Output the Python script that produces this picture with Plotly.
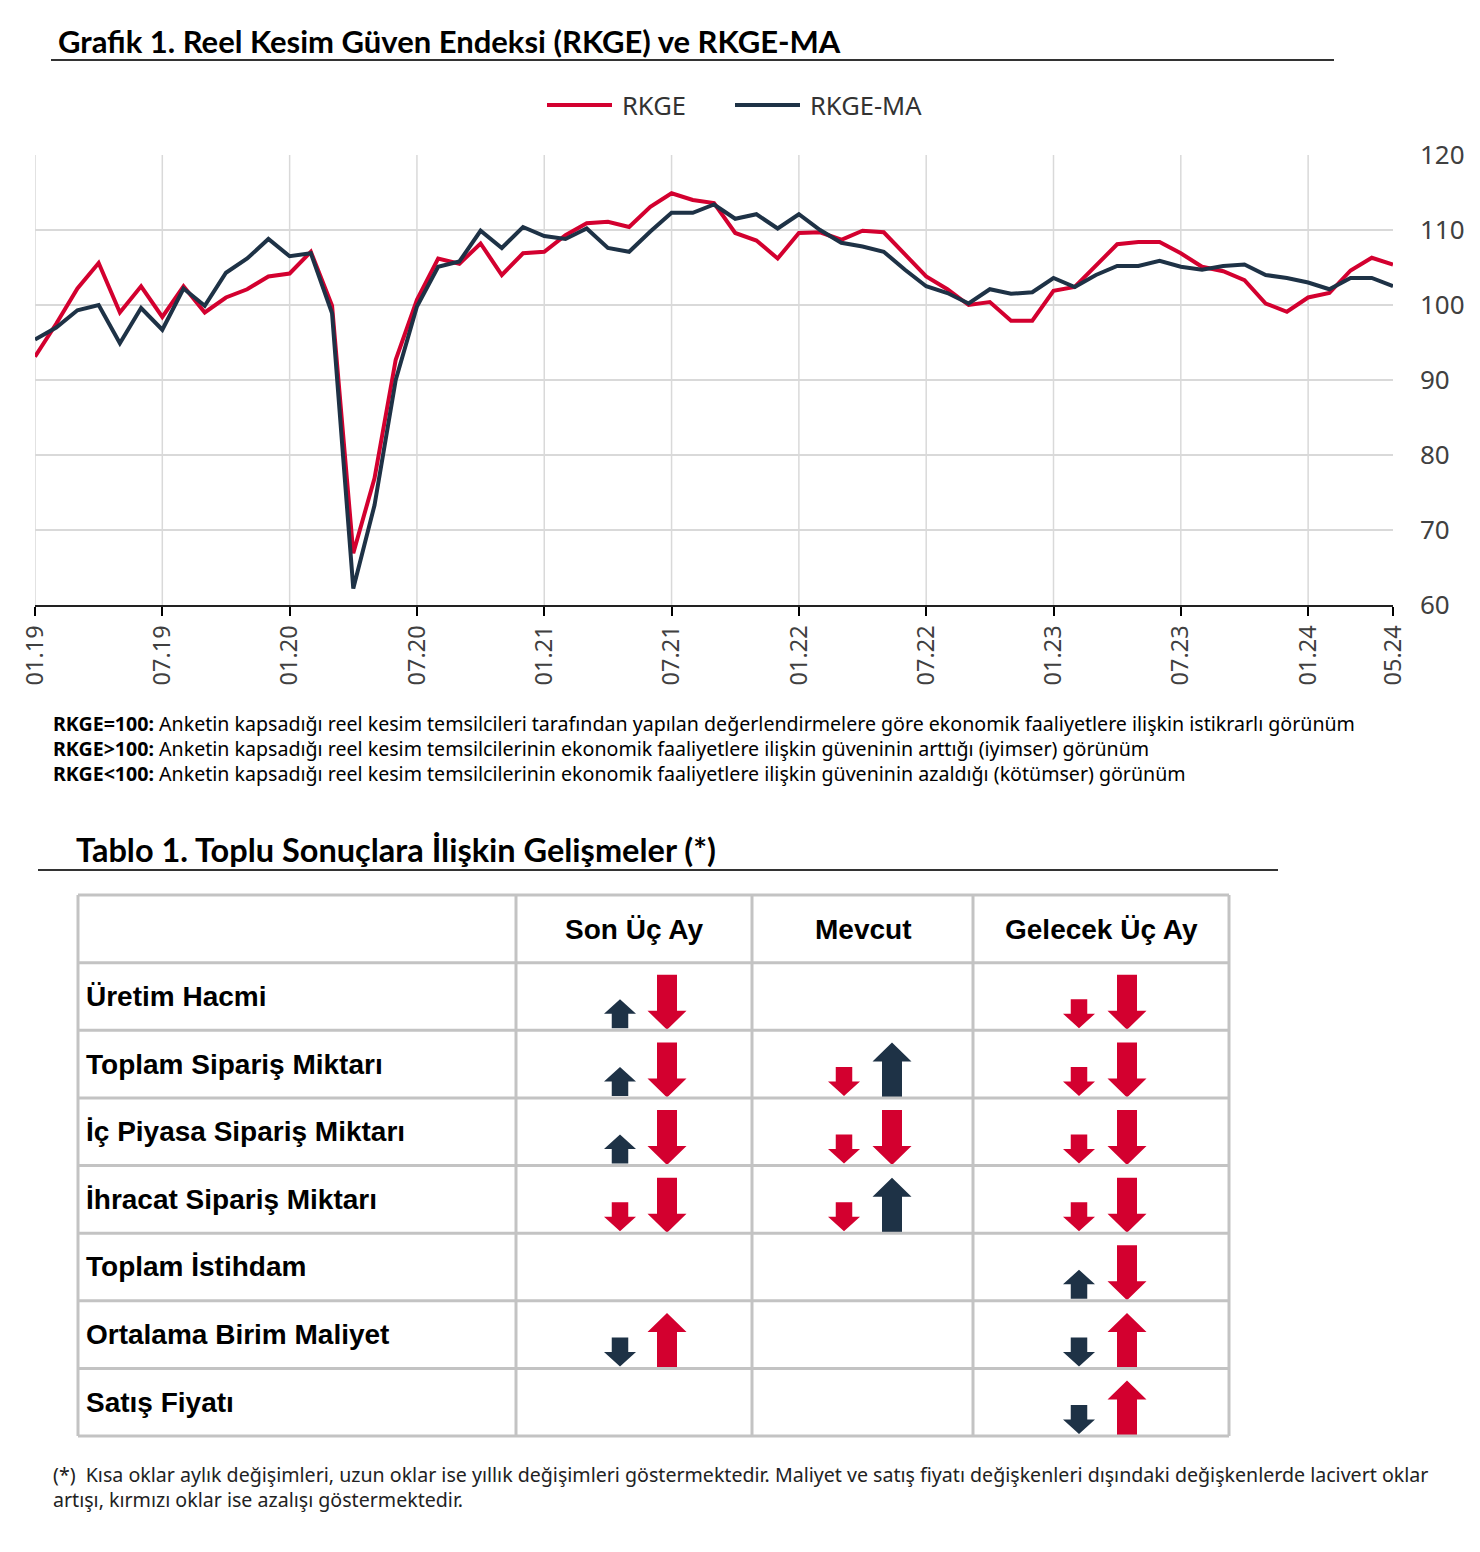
import pandas as pd
import plotly.graph_objects as go

# ---------------- DATA ----------------
months = list(pd.date_range("2019-01-01", "2024-05-01", freq="MS").strftime("%m.%y"))

rkge = [93.1, 97.5, 102.2, 105.6, 99.0, 102.5, 98.4, 102.5, 99.0, 101.0,
        102.1, 103.8, 104.2, 107.1, 99.9, 66.9, 76.9, 92.7, 100.7, 106.2,
        105.5, 108.2, 104.0, 106.9, 107.1, 109.3, 110.9, 111.1, 110.4, 113.1,
        114.9, 114.0, 113.6, 109.6, 108.6, 106.2, 109.6, 109.7, 108.7, 109.9,
        109.7, 106.7, 103.8, 102.1, 100.0, 100.4, 97.9, 97.9, 101.9, 102.4,
        105.3, 108.1, 108.4, 108.4, 106.9, 105.1, 104.5, 103.3, 100.2, 99.1,
        101.0, 101.6, 104.6, 106.3, 105.4]

rkge_ma = [95.4, 97.0, 99.3, 100.0, 94.9, 99.6, 96.7, 102.2, 99.9, 104.3,
           106.2, 108.8, 106.5, 106.9, 98.9, 62.2, 73.3, 90.0, 99.8, 105.1,
           105.8, 109.9, 107.6, 110.4, 109.2, 108.8, 110.2, 107.6, 107.1, 109.8,
           112.3, 112.3, 113.4, 111.5, 112.1, 110.2, 112.1, 110.0, 108.3, 107.8,
           107.1, 104.7, 102.5, 101.6, 100.2, 102.1, 101.5, 101.7, 103.6, 102.4,
           104.0, 105.2, 105.2, 105.9, 105.1, 104.7, 105.2, 105.4, 104.0, 103.6,
           103.0, 102.1, 103.6, 103.6, 102.5]

x_tick_labels = ["01.19", "07.19", "01.20", "07.20", "01.21", "07.21",
                 "01.22", "07.22", "01.23", "07.23", "01.24", "05.24"]
x_grid_labels = x_tick_labels[:-1]
y_ticks = [60, 70, 80, 90, 100, 110, 120]

table_columns = ["Son Üç Ay", "Mevcut", "Gelecek Üç Ay"]
table_rows = ["Üretim Hacmi", "Toplam Sipariş Miktarı", "İç Piyasa Sipariş Miktarı",
              "İhracat Sipariş Miktarı", "Toplam İstihdam", "Ortalama Birim Maliyet",
              "Satış Fiyatı"]
# cost / price rows: colour meaning reversed (increase shown red)
row_reversed = [False, False, False, False, False, True, True]

# monthly (short) and annual (long) changes: "up", "down" or None
short_changes = {
    "Son Üç Ay":     ["up", "up", "up", "down", None, "down", None],
    "Mevcut":        [None, "down", "down", "down", None, None, None],
    "Gelecek Üç Ay": ["down", "down", "down", "down", "up", "down", "down"],
}
long_changes = {
    "Son Üç Ay":     ["down", "down", "down", "down", None, "up", None],
    "Mevcut":        [None, "up", "down", "up", None, None, None],
    "Gelecek Üç Ay": ["down", "down", "down", "down", "down", "up", "up"],
}

# ---------------- STYLE ----------------
RED = "#D3002F"
NAVY = "#1E3246"
GRID = "#D9D9D9"
TGRID = "#C3C3C3"
W, H = 1480, 1552
FONT = "Noto Sans"
TFONT = "Liberation Sans"


def px(x):
    return x / W


def py(y):
    return 1 - y / H


fig = go.Figure()

fig.add_trace(go.Scatter(x=months, y=rkge, mode="lines", name="RKGE",
                         line=dict(color=RED, width=4), showlegend=False,
                         xaxis="x", yaxis="y"))
fig.add_trace(go.Scatter(x=months, y=rkge_ma, mode="lines", name="RKGE-MA",
                         line=dict(color=NAVY, width=4), showlegend=False,
                         xaxis="x", yaxis="y"))

shapes = []
annotations = []

# vertical gridlines in the chart
for lbl in x_grid_labels:
    i = months.index(lbl)
    shapes.append(dict(type="line", xref="x", yref="y domain", x0=i, x1=i, y0=0, y1=1,
                       line=dict(color=GRID, width=1.5), layer="below"))

# ---- table geometry (pixel-like units inside the table subplot) ----
TX0, TY0 = 78, 895            # table top-left in page pixels
col_edges = [0, 438, 674, 895, 1151]
n_rows = len(table_rows) + 1
row_h = 541 / n_rows
row_edges = [k * row_h for k in range(n_rows + 1)]
# arrow centre offsets (short, long) per column, relative to column left edge
arrow_x = {"Son Üç Ay": (104, 151), "Mevcut": (92, 140), "Gelecek Üç Ay": (106, 154)}
LONG = dict(h=55, w=39, s=20, hh=19, gap=0.5)
SHORT = dict(h=29, w=32, s=16.5, hh=14.5, gap=2)


def arrow_poly(cx, yb, direction, g):
    h, w, s, hh = g["h"], g["w"], g["s"], g["hh"]
    yt = yb - h
    xs = [cx - s / 2, cx - s / 2, cx - w / 2, cx, cx + w / 2, cx + s / 2, cx + s / 2, cx - s / 2]
    if direction == "up":
        ys = [yb, yt + hh, yt + hh, yt, yt + hh, yt + hh, yb, yb]
    else:
        ys = [yt, yb - hh, yb - hh, yb, yb - hh, yb - hh, yt, yt]
    return xs, ys


def arrow_color(direction, reversed_):
    up_good = not reversed_
    if direction == "up":
        return NAVY if up_good else RED
    return RED if up_good else NAVY


for ci, col in enumerate(table_columns):
    left = col_edges[ci + 1]
    for ri, _ in enumerate(table_rows):
        yb = row_edges[ri + 2]
        for changes, g, k in ((short_changes, SHORT, 0), (long_changes, LONG, 1)):
            d = changes[col][ri]
            if d is None:
                continue
            xs, ys = arrow_poly(left + arrow_x[col][k], yb - g["gap"], d, g)
            c = arrow_color(d, row_reversed[ri])
            fig.add_trace(go.Scatter(x=xs, y=ys, mode="lines", fill="toself",
                                     fillcolor=c, line=dict(width=0, color=c),
                                     hoverinfo="skip", showlegend=False,
                                     xaxis="x2", yaxis="y2"))

# table grid
for xe in col_edges:
    shapes.append(dict(type="line", xref="x2", yref="y2", x0=xe, x1=xe,
                       y0=row_edges[0], y1=row_edges[-1], line=dict(color=TGRID, width=3)))
for ye in row_edges:
    shapes.append(dict(type="line", xref="x2", yref="y2", x0=col_edges[0], x1=col_edges[-1],
                       y0=ye, y1=ye, line=dict(color=TGRID, width=3)))

# table header
for ci, col in enumerate(table_columns):
    annotations.append(dict(xref="x2", yref="y2", x=(col_edges[ci + 1] + col_edges[ci + 2]) / 2,
                            y=row_h / 2 + 1, text=f"<b>{col}</b>", showarrow=False,
                            xanchor="center", yanchor="middle",
                            font=dict(family=TFONT, size=28, color="#000")))
for ri, rl in enumerate(table_rows):
    annotations.append(dict(xref="x2", yref="y2", x=6, y=row_edges[ri + 1] + row_h / 2,
                            text=f"<b>{rl}</b>", showarrow=False, xanchor="left",
                            yanchor="middle", font=dict(family=TFONT, size=28, color="#000")))

# titles and underlines
annotations.append(dict(xref="paper", yref="paper", x=px(56), y=py(41),
                        text="<b>Grafik 1. Reel Kesim Güven Endeksi (RKGE) ve RKGE-MA</b>",
                        showarrow=False, xanchor="left", yanchor="middle",
                        font=dict(family="Lato", size=31, color="#000")))
shapes.append(dict(type="line", xref="paper", yref="paper", x0=px(51), x1=px(1334),
                   y0=py(60), y1=py(60), line=dict(color="#333", width=2)))
annotations.append(dict(xref="paper", yref="paper", x=px(74), y=py(849),
                        text="<b>Tablo 1. Toplu Sonuçlara İlişkin Gelişmeler (*)</b>",
                        showarrow=False, xanchor="left", yanchor="middle",
                        font=dict(family="Lato", size=32.5, color="#000")))
shapes.append(dict(type="line", xref="paper", yref="paper", x0=px(38), x1=px(1278),
                   y0=py(870), y1=py(870), line=dict(color="#333", width=2)))

# manual legend
for (x0, x1, tx, name, colr) in ((547, 612, 620, "RKGE", RED), (735, 800, 808, "RKGE-MA", NAVY)):
    shapes.append(dict(type="line", xref="paper", yref="paper", x0=px(x0), x1=px(x1),
                       y0=py(105), y1=py(105), line=dict(color=colr, width=4)))
    annotations.append(dict(xref="paper", yref="paper", x=px(tx), y=py(105), text=name,
                            showarrow=False, xanchor="left", yanchor="middle",
                            font=dict(family=FONT, size=25.5, color="#333")))

# notes
notes = [
    ("RKGE=100:", "Anketin kapsadığı reel kesim temsilcileri tarafından yapılan değerlendirmelere göre ekonomik faaliyetlere ilişkin istikrarlı görünüm"),
    ("RKGE>100:", "Anketin kapsadığı reel kesim temsilcilerinin ekonomik faaliyetlere ilişkin güveninin arttığı (iyimser) görünüm"),
    ("RKGE<100:", "Anketin kapsadığı reel kesim temsilcilerinin ekonomik faaliyetlere ilişkin güveninin azaldığı (kötümser) görünüm"),
]
for k, (b, t) in enumerate(notes):
    annotations.append(dict(xref="paper", yref="paper", x=px(51), y=py(723 + 25 * k),
                            text=f"<b>{b.replace('<', '&lt;').replace('>', '&gt;')}</b> {t}",
                            showarrow=False, xanchor="left", yanchor="middle",
                            font=dict(family=FONT, size=19.6, color="#000")))

foot = ["(*)  Kısa oklar aylık değişimleri, uzun oklar ise yıllık değişimleri göstermektedir. Maliyet ve satış fiyatı değişkenleri dışındaki değişkenlerde lacivert oklar",
        "artışı, kırmızı oklar ise azalışı göstermektedir."]
for k, t in enumerate(foot):
    annotations.append(dict(xref="paper", yref="paper", x=px(51), y=py(1474 + 25 * k),
                            text=t, showarrow=False, xanchor="left", yanchor="middle",
                            font=dict(family=FONT, size=19.6, color="#222")))

fig.update_layout(
    width=W, height=H, margin=dict(l=0, r=0, t=0, b=0, pad=0, autoexpand=False),
    paper_bgcolor="white", plot_bgcolor="rgba(0,0,0,0)",
    showlegend=False,
    xaxis=dict(domain=[px(35), px(1393)], type="category", range=[0, len(months) - 1],
               tickmode="array", tickvals=x_tick_labels, ticktext=x_tick_labels,
               tickangle=-90, ticks="outside", ticklen=9, tickwidth=1.5, tickcolor="#000",
               showline=True, linecolor="#222", linewidth=2, showgrid=False, zeroline=False,
               automargin=False,
               tickfont=dict(family=FONT, size=23.5, color="#404040"), anchor="y", fixedrange=True),
    yaxis=dict(domain=[py(605), py(155)], range=[60, 120], side="right", tickvals=y_ticks,
               showgrid=True, gridcolor=GRID, gridwidth=1.5, zeroline=False, showline=False,
               ticks="", ticklabelstandoff=26, automargin=False,
               tickfont=dict(family=FONT, size=26, color="#404040"), anchor="x", fixedrange=True),
    xaxis2=dict(domain=[px(TX0 - 5), px(TX0 + 1156)], range=[-5, 1156], visible=False,
                anchor="y2", fixedrange=True, automargin=False),
    yaxis2=dict(domain=[py(TY0 + 546), py(TY0 - 5)], range=[546, -5], visible=False,
                anchor="x2", fixedrange=True, automargin=False),
    shapes=shapes, annotations=annotations,
)

fig.write_html("out.html", config={"displayModeBar": False},
               post_script="document.body.style.margin='0px';document.body.style.padding='0px';")
